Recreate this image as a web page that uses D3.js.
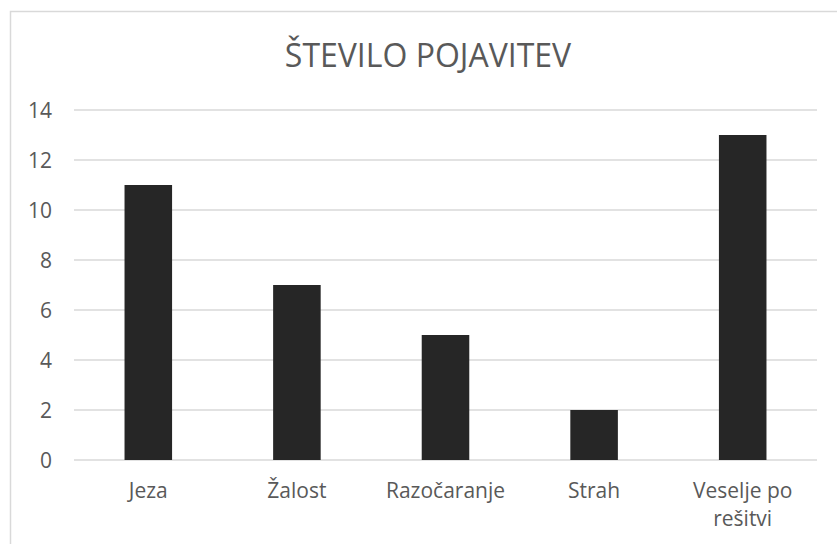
<!DOCTYPE html>
<html>
<head>
<meta charset="utf-8">
<script src="https://cdn.jsdelivr.net/npm/d3@7"></script>
<style>
  body { margin: 0; background: #fff; }
  text { font-family: "Open Sans", sans-serif; fill: #595959; }
</style>
</head>
<body>
<div id="chart"></div>
<script>
const categories = ['Jeza', 'Žalost', 'Razočaranje', 'Strah', 'Veselje po rešitvi'];
const values = [11, 7, 5, 2, 13];
const yTicks = [0, 2, 4, 6, 8, 10, 12, 14];
const title = 'ŠTEVILO POJAVITEV';

const W = 837, H = 544;
const svg = d3.select('#chart').append('svg').attr('width', W).attr('height', H);

// Rahmen (rechts/unten abgeschnitten)
svg.append('rect')
  .attr('x', 10.5).attr('y', 11.5)
  .attr('width', 900).attr('height', 600)
  .attr('fill', 'none').attr('stroke', '#d9d9d9').attr('stroke-width', 1.5);

svg.append('text')
  .attr('x', 428).attr('y', 67)
  .attr('text-anchor', 'middle')
  .attr('font-size', 32)
  .text(title);

const x = d3.scaleBand().domain(categories).range([74, 817])
  .paddingInner(0.68).paddingOuter(0.34);
const y = d3.scaleLinear().domain([0, 14]).range([460, 110]);

// Gitterlinien
svg.append('g').selectAll('line').data(yTicks).join('line')
  .attr('x1', 74).attr('x2', 817)
  .attr('y1', d => y(d)).attr('y2', d => y(d))
  .attr('stroke', '#d9d9d9').attr('stroke-width', 1.5);

svg.append('g').selectAll('text').data(yTicks).join('text')
  .attr('x', 52).attr('y', d => y(d))
  .attr('dy', '0.36em')
  .attr('text-anchor', 'end')
  .attr('font-size', 21)
  .text(d => d);

svg.append('g').selectAll('rect').data(values).join('rect')
  .attr('x', (d, i) => x(categories[i]))
  .attr('y', d => y(d))
  .attr('width', x.bandwidth())
  .attr('height', d => y(0) - y(d))
  .attr('fill', '#262626');

// Achsenbeschriftung mit Umbruch
const maxW = x.step() * 0.95;
const labels = svg.append('g').selectAll('text').data(categories).join('text')
  .attr('x', d => x(d) + x.bandwidth() / 2)
  .attr('y', 498)
  .attr('text-anchor', 'middle')
  .attr('font-size', 21);

labels.each(function(d) {
  const t = d3.select(this);
  const words = d.split(' ');
  let line = [];
  let ts = t.append('tspan').attr('x', t.attr('x'));
  for (const w of words) {
    line.push(w);
    ts.text(line.join(' '));
    if (ts.node().getComputedTextLength() > maxW && line.length > 1) {
      line.pop();
      ts.text(line.join(' '));
      line = [w];
      ts = t.append('tspan').attr('x', t.attr('x')).attr('dy', 28).text(w);
    }
  }
});
</script>
</body>
</html>
